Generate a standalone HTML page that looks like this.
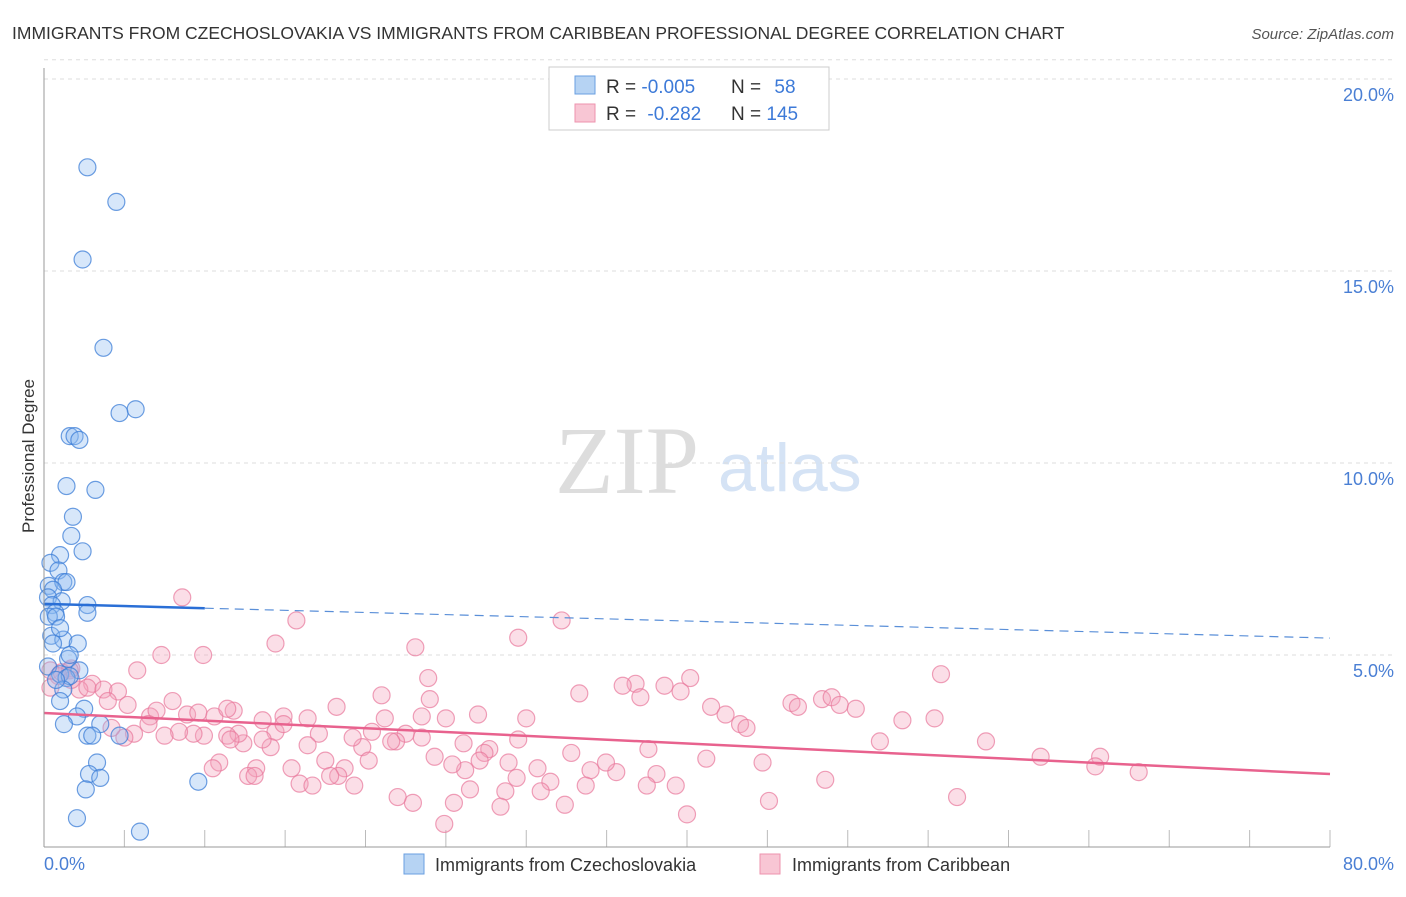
<!DOCTYPE html>
<html><head><meta charset="utf-8"><style>
body{margin:0;background:#fff;font-family:"Liberation Sans",sans-serif}
svg text{font-family:"Liberation Sans",sans-serif}
</style></head><body>
<svg id="c" width="1406" height="892" xmlns="http://www.w3.org/2000/svg">
<text x="12" y="39" font-size="17.5" fill="#333">IMMIGRANTS FROM CZECHOSLOVAKIA VS IMMIGRANTS FROM CARIBBEAN PROFESSIONAL DEGREE CORRELATION CHART</text>
<text x="1394" y="39" font-size="15" font-style="italic" fill="#555" text-anchor="end">Source: ZipAtlas.com</text>
<text x="34" y="456" font-size="17" fill="#333" text-anchor="middle" transform="rotate(-90 34 456)">Professional Degree</text>
<text x="555" y="493" font-size="96" fill="#ddd" font-family="Liberation Serif" style="font-family:'Liberation Serif',serif">ZIP</text>
<text x="718" y="491" font-size="68" fill="#d5e3f5">atlas</text>
<g id="grid"></g><g id="pts"></g><g id="lines"></g>
<line x1="44" y1="68" x2="44" y2="847" stroke="#999"/>
<line x1="44" y1="847" x2="1330" y2="847" stroke="#999"/>
<text x="44" y="870" font-size="18" fill="#4a7fd4">0.0%</text>
<text x="1394" y="870" font-size="18" fill="#4a7fd4" text-anchor="end">80.0%</text>
<g>
<rect x="549" y="67" width="280" height="63" fill="#fff" stroke="#ccc"/>
<rect x="575" y="76" width="20" height="18" fill="#b6d3f3" stroke="#6a9fe0"/>
<rect x="575" y="104" width="20" height="18" fill="#f8c6d4" stroke="#ee93ae"/>
<text x="606" y="93" font-size="19" fill="#333">R = <tspan fill="#3d7ad8">-0.005</tspan></text>
<text x="731" y="93" font-size="19" fill="#333">N = <tspan fill="#3d7ad8" dx="8">58</tspan></text>
<text x="606" y="120" font-size="19" fill="#333">R = <tspan fill="#3d7ad8" dx="6">-0.282</tspan></text>
<text x="731" y="120" font-size="19" fill="#333">N = <tspan fill="#3d7ad8">145</tspan></text>
</g>
<g>
<rect x="404" y="854" width="20" height="20" fill="#b6d3f3" stroke="#6a9fe0"/>
<text x="435" y="871" font-size="18" fill="#333">Immigrants from Czechoslovakia</text>
<rect x="760" y="854" width="20" height="20" fill="#f8c6d4" stroke="#ee93ae"/>
<text x="792" y="871" font-size="18" fill="#333">Immigrants from Caribbean</text>
</g>
</svg>
<script>
const yTicks=[5,10,15,20];
const yTickLabels=["5.0%","10.0%","15.0%","20.0%"];
const xTicks=[0,5,10,15,20,25,30,35,40,45,50,55,60,65,70,75,80];
const blueX=[2.7,4.5,2.4,3.7,4.7,5.7,1.6,1.9,2.2,1.4,3.2,1.8,1.7,2.4,1.0,0.4,0.9,0.3,1.2,1.4,0.56,0.25,1.1,0.5,2.7,0.7,0.3,2.7,0.75,0.45,1.2,2.1,0.56,1.5,1.6,2.2,0.25,1.0,1.4,1.6,1.2,1.0,2.5,2.05,1.24,3.5,2.7,3.0,4.7,3.3,2.8,3.5,2.6,9.6,2.05,5.97,0.75,1.0];
const blueY=[17.7,16.8,15.3,13.0,11.3,11.4,10.7,10.7,10.6,9.4,9.3,8.6,8.1,7.7,7.6,7.4,7.2,6.8,6.9,6.9,6.7,6.5,6.4,6.3,6.3,6.1,6.0,6.1,6.0,5.5,5.4,5.3,5.3,4.9,5.0,4.6,4.7,4.5,4.4,4.45,4.1,3.8,3.6,3.4,3.2,3.2,2.9,2.9,2.9,2.2,1.9,1.8,1.5,1.7,0.75,0.4,4.35,5.7];
const pinkX=[8.6,15.7,32.2,29.5,23.1,14.4,7.3,9.9,0.4,1.1,1.7,5.8,23.9,55.8,40.2,36.8,36,38.6,39.6,33.3,37.1,21,24,3.0,2.2,2.7,3.7,4.6,5.2,3.97,6.6,7.0,8.0,8.9,9.6,10.6,11.8,13.6,14.9,16.4,18.2,21.2,25,27,30,41.5,42.4,43.3,43.7,46.5,46.9,48.4,49,49.5,50.5,53.4,55.4,52,58.6,62,65.7,65.4,68.1,56.8,48.6,44.7,45.1,40,41.2,39.3,37.6,38.1,37.5,35.6,34.96,34,33.7,32.8,32.4,31.5,30.9,30.7,29.5,28.9,28.7,28.4,29.4,27.7,27.4,27.1,26.2,26.5,26.1,25.4,25.5,24.9,24.3,23.5,22.95,22,22.5,21.9,21.6,20.4,19.8,20.2,19.2,18.7,19.3,18.3,17.5,17.1,16.4,15.4,15.9,16.7,17.8,14.4,14.1,13.6,13.2,12.7,13.1,12.4,12.1,11.4,11.6,10.9,10.5,9.95,9.3,8.4,7.5,6.5,5.6,5.0,4.2,1.6,1.7,0.9,0.4,14.9,11.4,23.5];
const pinkY=[6.5,5.9,5.9,5.45,5.2,5.3,5.0,5.0,4.6,4.55,4.65,4.6,4.4,4.5,4.4,4.25,4.2,4.2,4.05,4.0,3.9,3.95,3.85,4.25,4.1,4.15,4.1,4.05,3.7,3.8,3.4,3.55,3.8,3.45,3.5,3.4,3.55,3.3,3.4,3.35,3.65,3.35,3.35,3.45,3.35,3.65,3.45,3.2,3.1,3.75,3.65,3.85,3.9,3.7,3.6,3.3,3.35,2.75,2.75,2.35,2.35,2.1,1.95,1.3,1.75,2.2,1.2,0.85,2.3,1.6,2.55,1.9,1.6,1.95,2.2,2.0,1.6,2.45,1.1,1.7,1.45,2.05,2.8,2.2,1.45,1.05,1.8,2.55,2.45,2.25,2.0,1.5,2.7,2.15,1.15,0.6,2.35,2.85,1.15,1.3,2.95,2.75,2.75,3.0,2.6,2.25,2.85,2.05,1.6,1.85,2.25,2.95,2.65,2.05,1.65,1.6,1.85,3.0,2.6,2.8,2.05,1.85,1.85,2.7,2.95,2.9,2.8,2.2,2.05,2.9,2.95,3.0,2.9,3.2,2.95,2.85,3.1,4.6,4.35,4.45,4.15,3.2,3.6,3.4];
const blueTrend=[6.33,5.44];
const pinkTrend=[3.49,1.9];
const NS="http://www.w3.org/2000/svg";
const sx=v=>44+v*16.075, sy=v=>847-v*38.4;
function mk(t,a,p){const e=document.createElementNS(NS,t);for(const k in a)e.setAttribute(k,a[k]);p.appendChild(e);return e;}
const grid=document.getElementById('grid');
yTicks.forEach((t,i)=>{
 const l=mk('line',{x1:44,x2:1394,y1:sy(t),y2:sy(t),stroke:'#ddd','stroke-dasharray':'4 4'},grid);
 
 
 const tx=mk('text',{x:1394,y:sy(t)+22,'font-size':18,fill:'#4a7fd4','text-anchor':'end'},grid);
 tx.textContent=yTickLabels[i];
 
 
});
mk('line',{x1:44,x2:1394,y1:sy(20.5),y2:sy(20.5),stroke:'#ddd','stroke-dasharray':'4 4'},grid);
xTicks.forEach(t=>{
 const l=mk('line',{x1:sx(t),x2:sx(t),y1:830,y2:847,stroke:'#bbb'},grid);
 
 
});
const pts=document.getElementById('pts');
pinkX.forEach((x,i)=>{
 const c=mk('circle',{cx:sx(x),cy:sy(pinkY[i]),r:8.5,fill:'rgba(244,160,185,0.35)',stroke:'rgba(232,120,155,0.7)','stroke-width':1.2},pts);
 
 
});
blueX.forEach((x,i)=>{
 const c=mk('circle',{cx:sx(x),cy:sy(blueY[i]),r:8.5,fill:'rgba(140,185,240,0.35)',stroke:'rgba(60,125,215,0.75)','stroke-width':1.2},pts);
 
 
});
const lines=document.getElementById('lines');
const bAt=x=>blueTrend[0]+(blueTrend[1]-blueTrend[0])*x/80;
let b1=mk('line',{x1:sx(0),y1:sy(bAt(0)),x2:sx(10),y2:sy(bAt(10)),stroke:'#2a6fd6','stroke-width':2.5},lines);


let b2=mk('line',{x1:sx(10),y1:sy(bAt(10)),x2:sx(80),y2:sy(bAt(80)),stroke:'#5a8fd8','stroke-width':1.2,'stroke-dasharray':'9 6'},lines);


let p1=mk('line',{x1:sx(0),y1:sy(pinkTrend[0]),x2:sx(80),y2:sy(pinkTrend[1]),stroke:'#e8628e','stroke-width':2.5},lines);


</script>
</body></html>
